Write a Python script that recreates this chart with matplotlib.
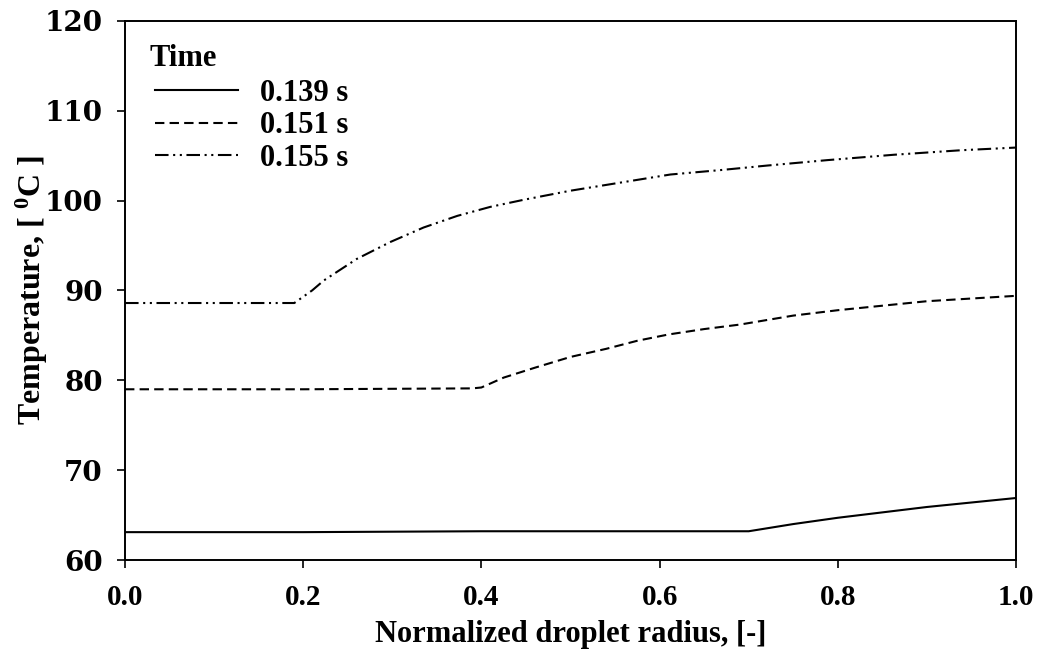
import matplotlib
matplotlib.use("Agg")
import matplotlib.pyplot as plt

# Data
r_139 = [0.0, 0.2, 0.4, 0.6, 0.70, 0.75, 0.80, 0.85, 0.90, 0.95, 1.0]
T_139 = [63.1, 63.1, 63.2, 63.2, 63.2, 64.0, 64.7, 65.3, 65.9, 66.4, 66.9]

r_151 = [0.0, 0.2, 0.39, 0.40, 0.425, 0.46, 0.50, 0.54, 0.575, 0.61, 0.65,
         0.69, 0.75, 0.80, 0.85, 0.90, 0.95, 1.0]
T_151 = [79.0, 79.0, 79.1, 79.2, 80.3, 81.4, 82.6, 83.5, 84.4, 85.1, 85.7,
         86.2, 87.2, 87.8, 88.3, 88.8, 89.1, 89.4]

r_155 = [0.0, 0.19, 0.21, 0.223, 0.26, 0.298, 0.335, 0.373, 0.41, 0.448, 0.5,
         0.556, 0.612, 0.669, 0.721, 0.788, 0.863, 0.938, 1.0]
T_155 = [88.6, 88.6, 90.0, 91.1, 93.5, 95.4, 97.0, 98.3, 99.3, 100.1, 101.1,
         102.0, 102.9, 103.4, 103.9, 104.5, 105.1, 105.6, 105.9]

labels = ["0.139 s", "0.151 s", "0.155 s"]
legend_title = "Time"
x_ticks = [0.0, 0.2, 0.4, 0.6, 0.8, 1.0]
y_ticks = [60, 70, 80, 90, 100, 110, 120]

plt.rcParams['font.family'] = ['Liberation Serif', 'DejaVu Serif']
plt.rcParams['font.weight'] = 'bold'
plt.rcParams['mathtext.fontset'] = 'custom'
plt.rcParams['mathtext.rm'] = 'Liberation Serif:bold'
plt.rcParams['mathtext.bf'] = 'Liberation Serif:bold'
plt.rcParams['mathtext.it'] = 'Liberation Serif:bold'

fig = plt.figure(figsize=(10.41, 6.52), dpi=100)
ax = fig.add_axes([0.1201, 0.1411, 0.976 - 0.1201, 0.968 - 0.1411])

lw = 1.5
ax.plot(r_139, T_139, color='black', lw=lw, linestyle='-', label=labels[0])
ax.plot(r_151, T_151, color='black', lw=lw, linestyle=(0, (4.5, 2.5)), label=labels[1])
ax.plot(r_155, T_155, color='black', lw=lw,
        linestyle=(0, (6.5, 2.2, 1.0, 2.2, 1.0, 2.2)), label=labels[2])

ax.set_xlim(0, 1.0)
ax.set_ylim(60, 120)
ax.set_xticks(x_ticks)
ax.set_xticklabels([f"{v:.1f}" for v in x_ticks])
ax.set_yticks(y_ticks)
ax.tick_params(axis='both', direction='out', length=6, width=1.2,
               top=False, right=False)
ax.tick_params(axis='x', pad=11, labelsize=21)
ax.tick_params(axis='y', pad=10, labelsize=20)
for lab in ax.get_xticklabels():
    lab.set_fontweight('bold')
for lab in ax.get_yticklabels():
    lab.set_fontweight('bold')
    lab.set_family('DejaVu Serif')
for s in ax.spines.values():
    s.set_linewidth(1.4)

ax.set_xlabel("Normalized droplet radius, [-]", fontsize=22, fontweight='bold')
ax.set_ylabel(r"Temperature, [ $^{0}$C ]", fontsize=23, fontweight='bold')
ax.xaxis.set_label_coords(0.5, -0.111)
ax.yaxis.set_label_coords(-0.084, 0.5)

ax.text(0.028, 0.930, legend_title, transform=ax.transAxes, ha='left', va='center',
        fontsize=22, fontweight='bold')
leg = ax.legend(loc='upper left', bbox_to_anchor=(0.034, 0.893), frameon=False,
                fontsize=22, handlelength=2.7, handletextpad=0.72,
                labelspacing=0.12, borderaxespad=0.0, borderpad=0.0)
for t in leg.get_texts():
    t.set_fontweight('bold')

fig.savefig("out.png", dpi=100)
